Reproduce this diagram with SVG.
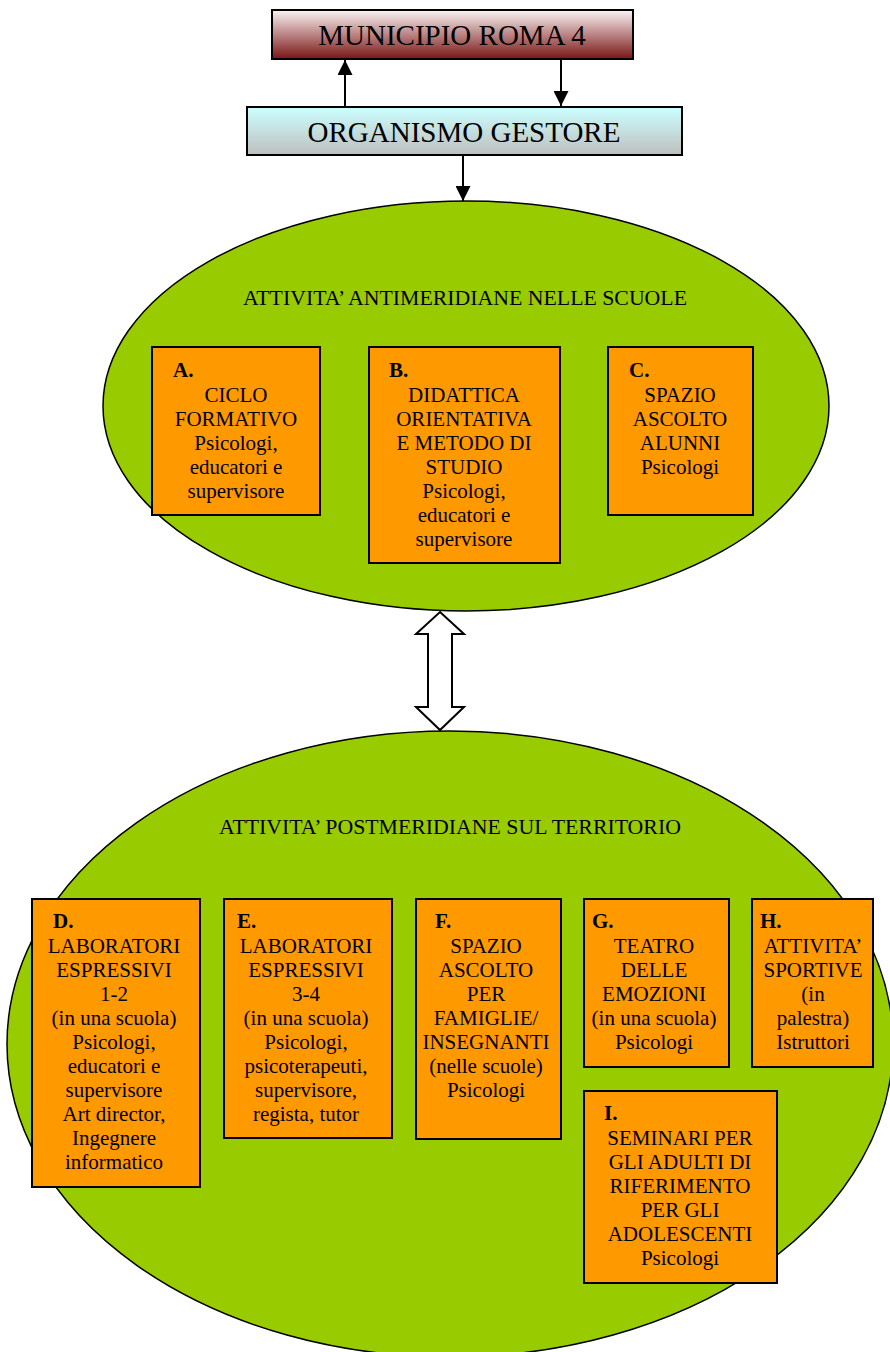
<svg xmlns="http://www.w3.org/2000/svg" width="890" height="1352" viewBox="0 0 890 1352">
<defs>
<linearGradient id="gMun" x1="0" y1="0" x2="0" y2="1">
<stop offset="0" stop-color="#fbf4f4"/><stop offset="1" stop-color="#7a1515"/>
</linearGradient>
<linearGradient id="gOrg" x1="0" y1="0" x2="0" y2="1">
<stop offset="0" stop-color="#ccffff"/><stop offset="1" stop-color="#bfbfbf"/>
</linearGradient>
<marker id="ah" viewBox="0 0 10 10" refX="10" refY="5" markerWidth="15" markerHeight="15" markerUnits="userSpaceOnUse" orient="auto">
<path d="M0,0 L10,5 L0,10 z" fill="#000"/>
</marker>
<style>
text{font-family:"Liberation Serif","Times New Roman",serif;fill:#000}
.big{font-size:29px;text-anchor:middle}
.title{font-size:21.8px;text-anchor:middle}
.t{font-size:21px;text-anchor:middle}
.lbl{font-size:21px;font-weight:bold}
.box{fill:#ff9900;stroke:#000;stroke-width:2}
.ell{fill:#99cc00;stroke:#000;stroke-width:1.5}
.con{stroke:#000;stroke-width:2;fill:none}
</style>
</defs>
<g id="ellipse-top"><ellipse class="ell" cx="466" cy="406" rx="363" ry="205"/>
<text class="title" x="465" y="305">ATTIVITA’ ANTIMERIDIANE NELLE SCUOLE</text></g>
<g id="ellipse-bottom"><ellipse class="ell" cx="450" cy="1044" rx="443" ry="313"/>
<text class="title" x="450" y="834">ATTIVITA’ POSTMERIDIANE SUL TERRITORIO</text></g>
<g id="municipio"><rect x="272" y="10" width="361" height="49" fill="url(#gMun)" stroke="#000" stroke-width="2"/>
<text class="big" x="452" y="45">MUNICIPIO ROMA 4</text></g>
<g id="organismo"><rect x="247" y="107" width="435" height="48" fill="url(#gOrg)" stroke="#000" stroke-width="2"/>
<text class="big" x="464" y="142">ORGANISMO GESTORE</text></g>
<g id="connectors">
<line class="con" x1="345" y1="107" x2="345" y2="60" marker-end="url(#ah)"/>
<line class="con" x1="561" y1="59" x2="561" y2="106" marker-end="url(#ah)"/>
<line class="con" x1="463" y1="155" x2="463" y2="201" marker-end="url(#ah)"/>
<path d="M440,612 L464,634 L452,634 L452,707 L464,707 L440,730 L416,707 L428,707 L428,634 L416,634 Z" fill="#fff" stroke="#000" stroke-width="2"/>
</g>
<g id="A"><rect class="box" x="152" y="347" width="168" height="168"/>
<text class="lbl" x="173" y="377">A.</text>
<text class="t" x="236"><tspan x="236" y="402">CICLO</tspan><tspan x="236" y="426">FORMATIVO</tspan><tspan x="236" y="450">Psicologi,</tspan><tspan x="236" y="474">educatori e</tspan><tspan x="236" y="498">supervisore</tspan></text></g>
<g id="B"><rect class="box" x="369" y="347" width="191" height="216"/>
<text class="lbl" x="389" y="377">B.</text>
<text class="t" x="464"><tspan x="464" y="402">DIDATTICA</tspan><tspan x="464" y="426">ORIENTATIVA</tspan><tspan x="464" y="450">E METODO DI</tspan><tspan x="464" y="474">STUDIO</tspan><tspan x="464" y="498">Psicologi,</tspan><tspan x="464" y="522">educatori e</tspan><tspan x="464" y="546">supervisore</tspan></text></g>
<g id="C"><rect class="box" x="608" y="347" width="145" height="168"/>
<text class="lbl" x="629" y="377">C.</text>
<text class="t" x="680"><tspan x="680" y="402">SPAZIO</tspan><tspan x="680" y="426">ASCOLTO</tspan><tspan x="680" y="450">ALUNNI</tspan><tspan x="680" y="474">Psicologi</tspan></text></g>
<g id="D"><rect class="box" x="32" y="899" width="168" height="288"/>
<text class="lbl" x="53" y="928">D.</text>
<text class="t" x="114"><tspan x="114" y="953">LABORATORI</tspan><tspan x="114" y="977">ESPRESSIVI</tspan><tspan x="114" y="1001">1-2</tspan><tspan x="114" y="1025">(in una scuola)</tspan><tspan x="114" y="1049">Psicologi,</tspan><tspan x="114" y="1073">educatori e</tspan><tspan x="114" y="1097">supervisore</tspan><tspan x="114" y="1121">Art director,</tspan><tspan x="114" y="1145">Ingegnere</tspan><tspan x="114" y="1169">informatico</tspan></text></g>
<g id="E"><rect class="box" x="224" y="899" width="168" height="239"/>
<text class="lbl" x="237" y="928">E.</text>
<text class="t" x="306"><tspan x="306" y="953">LABORATORI</tspan><tspan x="306" y="977">ESPRESSIVI</tspan><tspan x="306" y="1001">3-4</tspan><tspan x="306" y="1025">(in una scuola)</tspan><tspan x="306" y="1049">Psicologi,</tspan><tspan x="306" y="1073">psicoterapeuti,</tspan><tspan x="306" y="1097">supervisore,</tspan><tspan x="306" y="1121">regista, tutor</tspan></text></g>
<g id="F"><rect class="box" x="416" y="899" width="145" height="240"/>
<text class="lbl" x="435" y="928">F.</text>
<text class="t" x="486"><tspan x="486" y="953">SPAZIO</tspan><tspan x="486" y="977">ASCOLTO</tspan><tspan x="486" y="1001">PER</tspan><tspan x="486" y="1025">FAMIGLIE/</tspan><tspan x="486" y="1049">INSEGNANTI</tspan><tspan x="486" y="1073">(nelle scuole)</tspan><tspan x="486" y="1097">Psicologi</tspan></text></g>
<g id="G"><rect class="box" x="584" y="899" width="145" height="168"/>
<text class="lbl" x="592" y="928">G.</text>
<text class="t" x="654"><tspan x="654" y="953">TEATRO</tspan><tspan x="654" y="977">DELLE</tspan><tspan x="654" y="1001">EMOZIONI</tspan><tspan x="654" y="1025">(in una scuola)</tspan><tspan x="654" y="1049">Psicologi</tspan></text></g>
<g id="H"><rect class="box" x="752" y="899" width="121" height="168"/>
<text class="lbl" x="760" y="928">H.</text>
<text class="t" x="813"><tspan x="813" y="953">ATTIVITA’</tspan><tspan x="813" y="977">SPORTIVE</tspan><tspan x="813" y="1001">(in</tspan><tspan x="813" y="1025">palestra)</tspan><tspan x="813" y="1049">Istruttori</tspan></text></g>
<g id="I"><rect class="box" x="584" y="1091" width="193" height="192"/>
<text class="lbl" x="604" y="1120">I.</text>
<text class="t" x="680"><tspan x="680" y="1145">SEMINARI PER</tspan><tspan x="680" y="1169">GLI ADULTI DI</tspan><tspan x="680" y="1193">RIFERIMENTO</tspan><tspan x="680" y="1217">PER GLI</tspan><tspan x="680" y="1241">ADOLESCENTI</tspan><tspan x="680" y="1265">Psicologi</tspan></text></g>
</svg>
